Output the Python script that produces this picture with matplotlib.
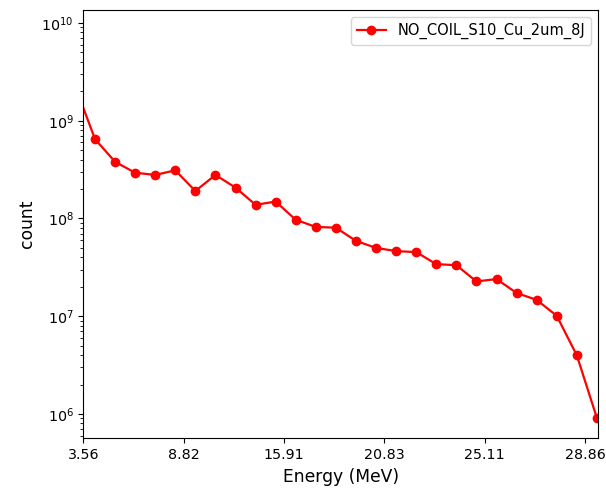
import numpy as np
import matplotlib
matplotlib.use("Agg")
import matplotlib.pyplot as plt

# counts per energy bin
counts = [2.3e9, 6.5e8, 3.8e8, 2.94e8, 2.79e8, 3.11e8, 1.91e8, 2.79e8, 2.07e8,
          1.38e8, 1.49e8, 9.7e7, 8.2e7, 8.05e7, 5.9e7, 5.0e7, 4.64e7, 4.53e7,
          3.41e7, 3.33e7, 2.27e7, 2.40e7, 1.73e7, 1.47e7, 1.01e7, 3.98e6, 9.1e5]
tick_labels = ["3.56", "8.82", "15.91", "20.83", "25.11", "28.86"]
label = "NO_COIL_S10_Cu_2um_8J"

x = np.arange(len(counts))

fig = plt.figure(figsize=(6.06, 4.95), dpi=100)
ax = fig.add_axes([0.1375, 0.1145, 0.8498, 0.8653])

ax.plot(x, counts, color="red", marker="o", markersize=6, linewidth=1.6, label=label)
ax.set_yscale("log")
ax.set_ylim(10**5.751, 10**10.133)
ax.set_xlim(0.42, 26.07)

ax.set_xticks(0.42 + 5 * np.arange(len(tick_labels)))
ax.set_xticklabels(tick_labels)
ax.tick_params(labelsize=10.3)

ax.set_xlabel("Energy (MeV)", fontsize=12.3)
ax.set_ylabel("count", fontsize=12.3)
ax.legend(loc="upper right", fontsize=10.5)

fig.savefig("out.png", dpi=100)
